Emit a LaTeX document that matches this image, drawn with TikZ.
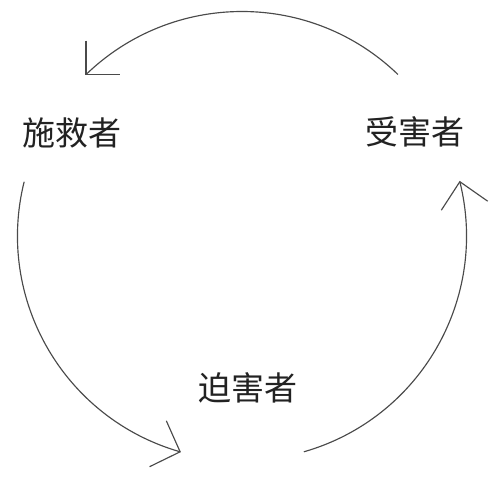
\documentclass[tikz,border=0pt]{standalone}
\usepackage{fontspec}
\newfontfamily\cjk{Noto Sans CJK SC}
\definecolor{linegray}{HTML}{4A4A4A}
\definecolor{textdark}{HTML}{222222}
\tikzset{
  role/.style={font=\cjk\fontsize{33}{36}\selectfont, text=textdark, inner sep=0pt},
  cyclearc/.style={draw=linegray, line width=1.15pt},
  arrowarm/.style={draw=linegray, line width=1.15pt, line join=miter}
}
\begin{document}
\begin{tikzpicture}[x=1pt,y=1pt]
\useasboundingbox (0,0) rectangle (500,482);
\coordinate (c) at (242,246);
\node[role] (rescuer) at (72,349) {施救者};
\node[role] (victim) at (415,350) {受害者};
\node[role] (persecutor) at (248,94) {迫害者};
\path (c) ++(46:224.5) coordinate (s1);
\path (c) ++(166:224.5) coordinate (s2);
\path (c) ++(286:224.5) coordinate (s3);
\path (c) ++(134:224.5) coordinate (e1);
\path (c) ++(254:224.5) coordinate (e2);
\path (c) ++(374:224.5) coordinate (e3);
\draw[cyclearc] (s1) arc[start angle=46, end angle=134, radius=224.5];
\draw[cyclearc] (s2) arc[start angle=166, end angle=254, radius=224.5];
\draw[cyclearc] (s3) arc[start angle=286, end angle=374, radius=224.5];
\draw[arrowarm] (e1) ++(90:34) -- (e1) -- ++(0:34);
\draw[arrowarm] (e2) ++(114:34) -- (e2) -- ++(206:34);
\draw[arrowarm] (e3) ++(237:34) -- (e3) -- ++(325:34);
\end{tikzpicture}
\end{document}
